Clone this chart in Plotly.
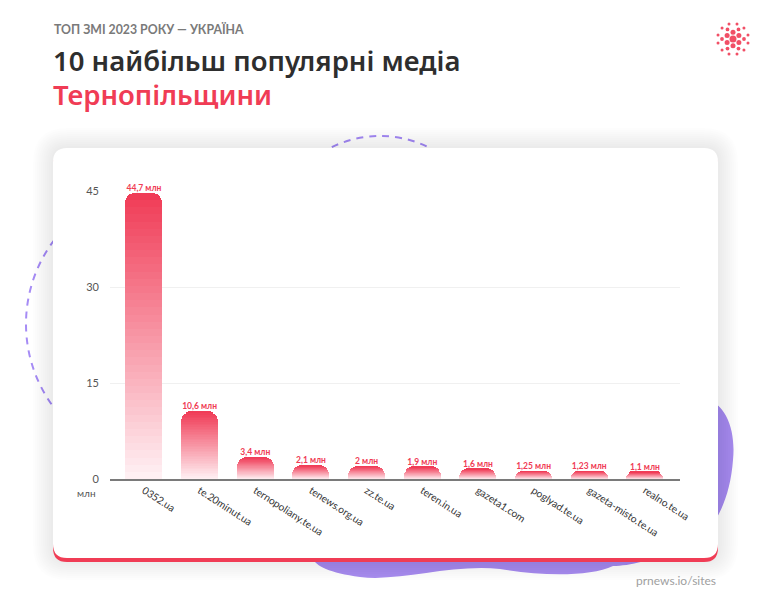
import math
import plotly.graph_objects as go

# ── Data ────────────────────────────────────────────────────────
sites = ["0352.ua", "te.20minut.ua", "ternopoliany.te.ua", "tenews.org.ua", "zz.te.ua",
         "teren.in.ua", "gazeta1.com", "poglyad.te.ua", "gazeta-misto.te.ua", "realno.te.ua"]
visits = [44.7, 10.6, 3.4, 2.1, 2.0, 1.9, 1.6, 1.25, 1.23, 1.1]
value_labels = ["44,7 млн", "10,6 млн", "3,4 млн", "2,1 млн", "2 млн",
                "1,9 млн", "1,6 млн", "1,25 млн", "1,23 млн", "1,1 млн"]
y_ticks = [0, 15, 30, 45]

# ── Layout helpers (pixel -> paper) ─────────────────────────────
W, H = 771, 600
OFF = 8                              # page body margin
L, R, T, B = 110, 680, 191, 479      # plot area in px (window coords)


def px(x):
    return (x - L) / (R - L)


def py(y):
    return (B - y) / (B - T)


def rrect(x0, y0, x1, y1, r):
    X0, X1, Y0, Y1 = px(x0), px(x1), py(y0), py(y1)
    rx, ry = r / (R - L), r / (B - T)
    return (f"M{X0+rx},{Y0} L{X1-rx},{Y0} Q{X1},{Y0} {X1},{Y0-ry} "
            f"L{X1},{Y1+ry} Q{X1},{Y1} {X1-rx},{Y1} L{X0+rx},{Y1} "
            f"Q{X0},{Y1} {X0},{Y1+ry} L{X0},{Y0-ry} Q{X0},{Y0} {X0+rx},{Y0} Z")


def pathpx(cmds):
    out = []
    for c in cmds:
        if isinstance(c, str):
            out.append(c)
        else:
            out.append(f"{px(c[0])},{py(c[1])}")
    return " ".join(out)


RED = "#f03c55"
PURPLE = "#a98ef0"
shapes = []

# purple blob behind the card
blob = pathpx(["M", (600, 420), "L", (705, 398),
               "C", (726, 404), (736, 430), (733, 460),
               "C", (730, 500), (715, 530), (690, 548),
               "C", (650, 560), (630, 566), (613, 566),
               "C", (590, 577), (540, 576), (500, 569),
               "C", (450, 564), (400, 582), (360, 577),
               "C", (330, 573), (315, 566), (313, 558),
               "L", (313, 420), "Z"])
shapes.append(dict(type="path", path=blob, xref="paper", yref="paper",
                   fillcolor=PURPLE, line_width=0, layer="below"))

# dashed circles
for cx, cy, r in [(165, 324, 139), (380, 246, 110)]:
    shapes.append(dict(type="circle", xref="paper", yref="paper",
                       x0=px(cx - r), x1=px(cx + r), y0=py(cy + r), y1=py(cy - r),
                       line=dict(color="#a68cf5", width=2, dash="7px,6px"),
                       layer="below"))

# card shadow
for k in range(1, 11):
    shapes.append(dict(type="path", path=rrect(53 - k * 2, 148 - k * 2, 718 + k * 2, 560 + k * 2, 14 + k * 2),
                       xref="paper", yref="paper", fillcolor="rgba(0,0,0,0.006)",
                       line_width=0, layer="below"))

# red strip + white card
shapes.append(dict(type="path", path=rrect(53, 152, 718, 562, 14), xref="paper", yref="paper",
                   fillcolor=RED, line_width=0, layer="below"))
shapes.append(dict(type="path", path=rrect(53, 148, 718, 558, 14), xref="paper", yref="paper",
                   fillcolor="white", line_width=0, layer="below"))

# logo dots
lx, ly = 733, 39
dots = [(0, 0, 7)]
dots += [(6.8, a * 60 + 30, 5) for a in range(6)]
dots += [(11, a * 60, 3.8) for a in range(6)]
dots += [(15.5, a * 30 + 15, 3) for a in range(12)]
for rad, ang, d in dots:
    cx = lx + rad * math.cos(math.radians(ang))
    cy = ly + rad * math.sin(math.radians(ang))
    shapes.append(dict(type="circle", xref="paper", yref="paper",
                       x0=px(cx - d / 2), x1=px(cx + d / 2), y0=py(cy + d / 2), y1=py(cy - d / 2),
                       fillcolor=RED, line_width=0, opacity=0.9))

# ── Figure ──────────────────────────────────────────────────────
fig = go.Figure()

N = 40
top_c = (240, 58, 85)
bot_c = (255, 242, 245)
for i in range(N):
    t = (i + 0.5) / N
    col = tuple(round(bot_c[j] + (top_c[j] - bot_c[j]) * t) for j in range(3))
    fig.add_trace(go.Bar(
        x=sites, y=[v / N for v in visits],
        width=0.665, marker=dict(color=f"rgb{col}", line_width=0),
        hoverinfo="skip", showlegend=False
    ))

fig.add_trace(go.Scatter(
    x=sites, y=visits, mode="text", text=value_labels,
    textposition="top center", cliponaxis=False,
    textfont=dict(family="Lato", size=8.5, color=RED, weight="bold"),
    hoverinfo="skip", showlegend=False
))

annotations = [
    dict(text="ТОП ЗМІ 2023 РОКУ — УКРАЇНА", x=px(52), y=py(29),
         font=dict(family="Lato", size=12.3, color="#7a7a7a", weight="bold")),
    dict(text="10 найбільш популярні медіа", x=px(51), y=py(60),
         font=dict(family="Noto Sans", size=27.5, color="#2e2e2e", weight=600)),
    dict(text="Тернопільщини", x=px(51), y=py(94),
         font=dict(family="Noto Sans", size=27.5, color=RED, weight=600)),
    dict(text="млн", x=px(98), y=py(493), xanchor="right",
         font=dict(family="Lato", size=10, color="#555")),
    dict(text="prnews.io/sites", x=px(718), y=py(580), xanchor="right",
         font=dict(family="Lato", size=12, color="#a0a0a0")),
]
for a in annotations:
    a.setdefault("xanchor", "left")
    a.update(xref="paper", yref="paper", yanchor="middle", showarrow=False)

fig.update_layout(
    width=W - OFF, height=H - OFF,
    margin=dict(l=L - OFF, r=W - R, t=T - OFF, b=H - B, pad=0),
    paper_bgcolor="white", plot_bgcolor="rgba(0,0,0,0)",
    barmode="stack", bargap=0, barcornerradius=10,
    shapes=shapes, annotations=annotations,
    xaxis=dict(range=[-0.61, 9.63], showgrid=False, showline=True,
               linecolor="#7a7a7a", linewidth=1.5, tickangle=33,
               tickfont=dict(family="Lato", size=10.2, color="#333"),
               fixedrange=True),
    yaxis=dict(range=[0, 45], tickvals=y_ticks, showgrid=True,
               gridcolor="#f0f0f0", gridwidth=1, zeroline=False,
               ticklabelstandoff=10,
               tickfont=dict(family="Lato", size=11, color="#555"),
               fixedrange=True),
)

fig.write_html("out.html")
